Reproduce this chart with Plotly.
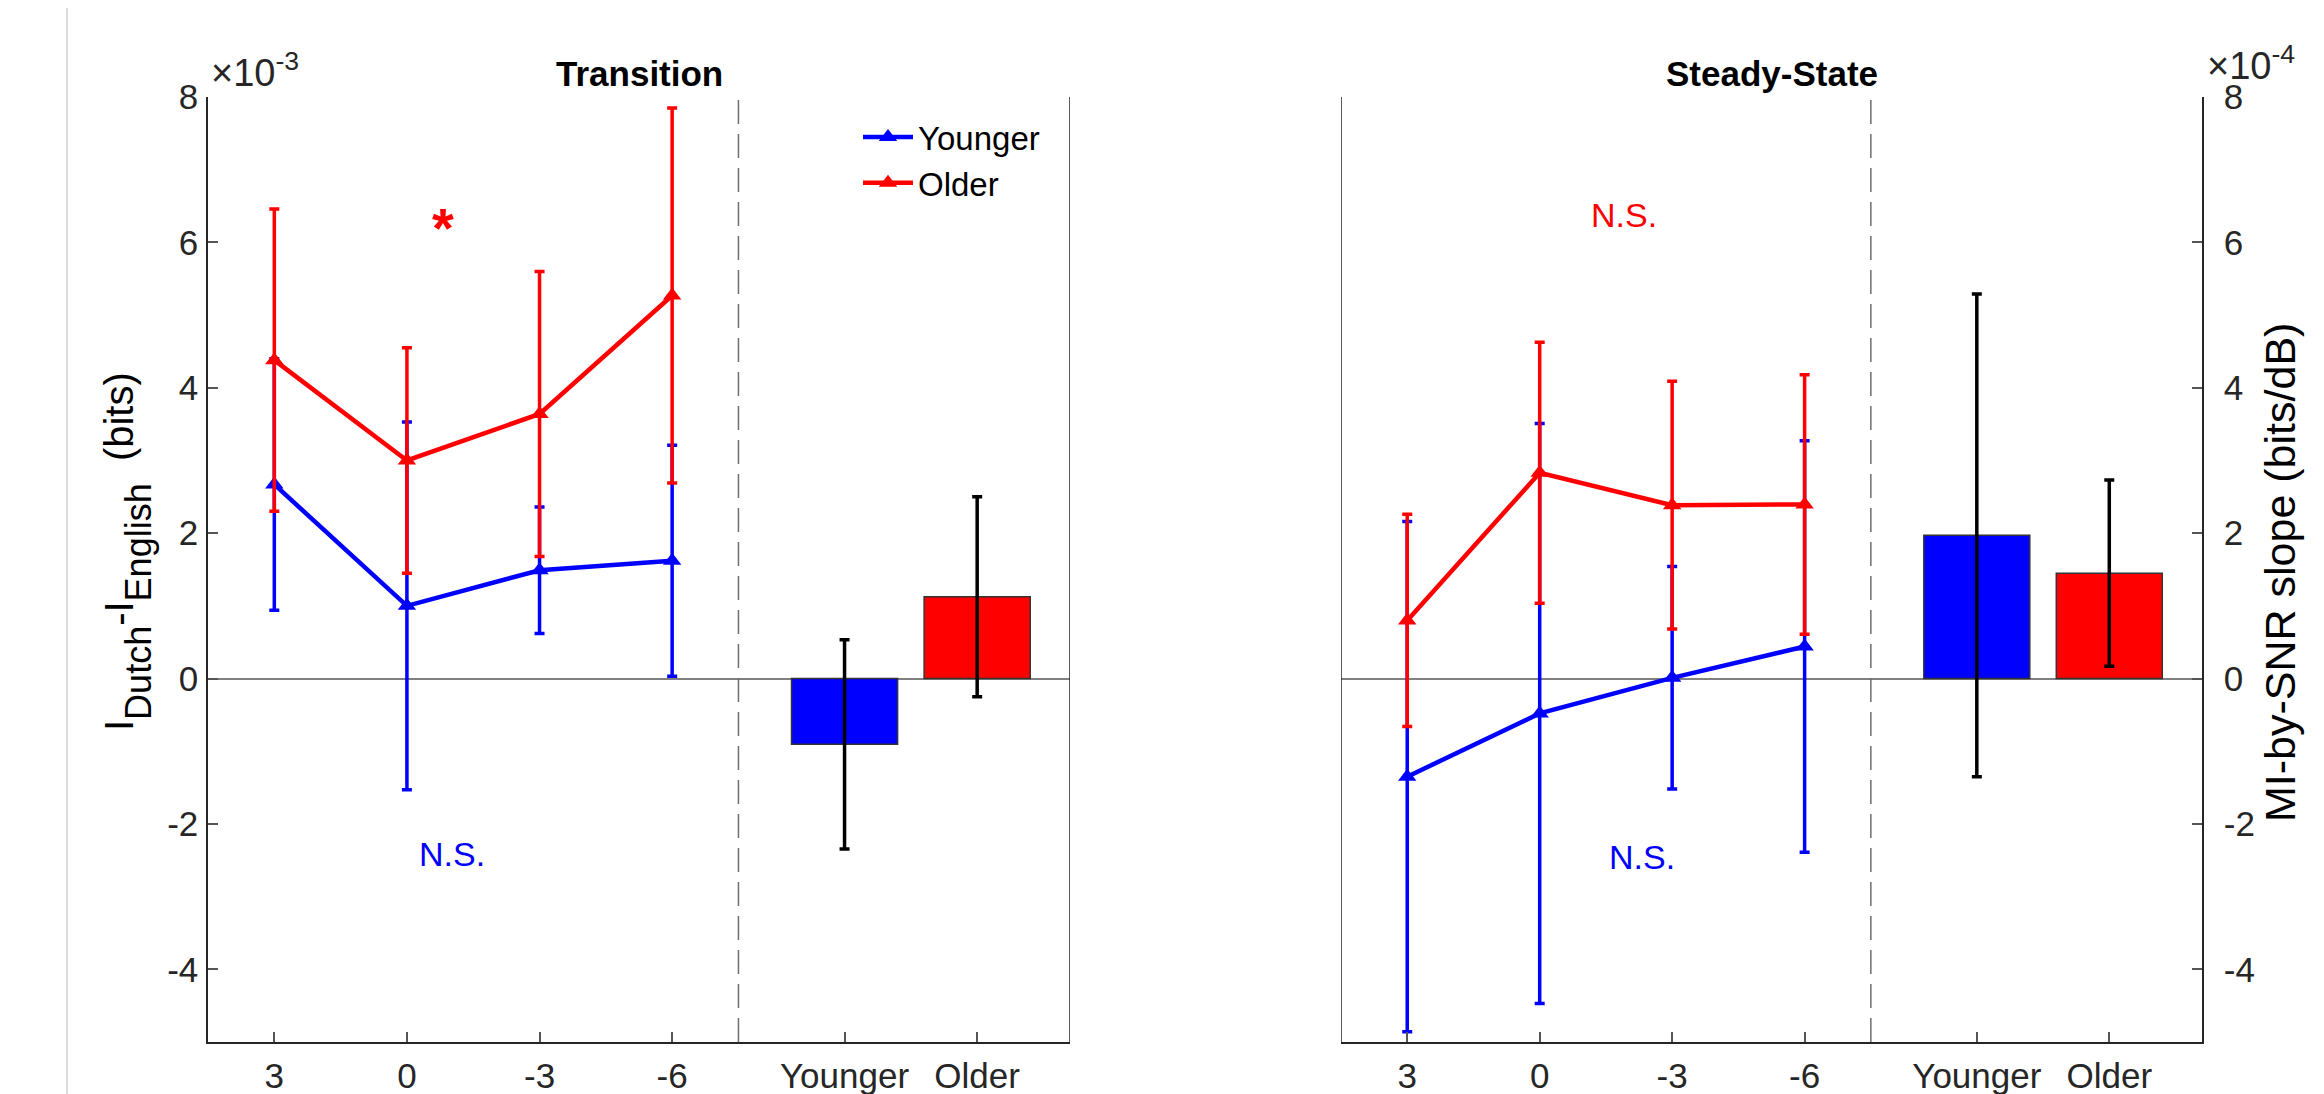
import plotly.graph_objects as go

W, H = 2324, 1094
OFF = 8  # the page body margin shifts the figure by 8 px

# ---- data (values in units of the tick labels: x1e-3 bits left, x1e-4 bits/dB right)
snr_labels = ["3", "0", "-3", "-6"]
snr_pos = [1, 2, 3, 4]
group_labels = ["Younger", "Older"]
group_pos = [5.3, 6.3]
y_ticks = [-4, -2, 0, 2, 4, 6, 8]
y_tick_text = ["-4", "-2", "0", "2", "4", "6", "8"]

trans_young = [2.67, 1.00, 1.49, 1.62]
trans_young_err = [1.73, 2.53, 0.87, 1.59]
trans_old = [4.38, 3.00, 3.64, 5.27]
trans_old_err = [2.08, 1.55, 1.96, 2.58]
trans_bar = [-0.905, 1.125]
trans_bar_err = [1.44, 1.375]

steady_young = [-1.35, -0.48, 0.01, 0.44]
steady_young_err = [3.51, 3.99, 1.53, 2.83]
steady_old = [0.80, 2.83, 2.385, 2.395]
steady_old_err = [1.46, 1.795, 1.705, 1.785]
steady_bar = [1.97, 1.45]
steady_bar_err = [3.32, 1.28]

BLUE = "#0000ff"
RED = "#ff0000"
AX = "#262626"
FONT = "Liberation Sans, Arial, Helvetica, sans-serif"


def px(X):
    return (X - OFF) / W


def py(Y):
    return 1 - (Y - OFF) / H


fig = go.Figure()


def add_panel(xa, ya, young, young_err, old, old_err, bar, bar_err, legend):
    fig.add_trace(go.Bar(
        x=group_pos, y=bar, width=0.8, xaxis=xa, yaxis=ya,
        marker=dict(color=[BLUE, RED], line=dict(color="#333333", width=1.5)),
        error_y=dict(type="data", array=bar_err, visible=True, color="black",
                     thickness=3.5, width=5),
        showlegend=False,
    ))
    for name, vals, errs, col in [("Younger", young, young_err, BLUE),
                                  ("Older", old, old_err, RED)]:
        fig.add_trace(go.Scatter(
            x=snr_pos, y=vals, mode="lines+markers", name=name,
            xaxis=xa, yaxis=ya,
            line=dict(color=col, width=4.5),
            marker=dict(symbol="triangle-up", size=16, color=col),
            error_y=dict(type="data", array=errs, visible=True, color=col,
                         thickness=3.5, width=5),
            showlegend=legend,
        ))


add_panel("x", "y", trans_young, trans_young_err, trans_old, trans_old_err,
          trans_bar, trans_bar_err, True)
add_panel("x2", "y2", steady_young, steady_young_err, steady_old, steady_old_err,
          steady_bar, steady_bar_err, False)

ydom = [py(1042), py(97)]
xdom1 = [px(208), px(1070)]
xdom2 = [px(1341), px(2202)]

xcommon = dict(range=[0.5, 7], tickvals=snr_pos + group_pos,
               ticktext=snr_labels + group_labels, ticks="inside", ticklen=10,
               tickcolor="#555555", tickwidth=1.5, showline=True, linecolor=AX,
               linewidth=1.5, showgrid=False, zeroline=False, automargin=False,
               tickfont=dict(size=35, color=AX, family=FONT), ticklabelstandoff=2)
ycommon = dict(range=[-5, 8], tickvals=y_ticks, ticktext=y_tick_text, ticks="inside",
               ticklen=10, tickcolor="#555555", tickwidth=1.5, showline=True,
               linecolor=AX, linewidth=1.5, showgrid=False, zeroline=True,
               zerolinecolor="#808080", zerolinewidth=2, automargin=False,
               tickfont=dict(size=35, color=AX, family=FONT), domain=ydom)

shapes = []
for xr, yr in [("x", "y"), ("x2", "y2")]:
    shapes.append(dict(type="line", xref=xr, yref=yr, x0=4.5, x1=4.5, y0=-5, y1=8,
                       line=dict(color="#6e6e6e", width=1.5, dash="24px,10px")))
shapes.append(dict(type="line", xref="x", yref="y", x0=7, x1=7, y0=-5, y1=8,
                   line=dict(color=AX, width=1.5)))
shapes.append(dict(type="line", xref="x2", yref="y2", x0=0.5, x1=0.5, y0=-5, y1=8,
                   line=dict(color=AX, width=1.5)))
shapes.append(dict(type="line", xref="paper", yref="paper", x0=px(67), x1=px(67),
                   y0=0, y1=1.02, line=dict(color="#dcdcdc", width=2)))

SUB = "<sub><span style='font-size:36px;baseline-shift:-10px'>{}</span></sub>"
ylabel_left = ("I" + SUB.format("Dutch") + "-I" + SUB.format("English")
               + "\u00a0 (bits)")

annotations = [
    dict(text="<b>Transition</b>", xref="paper", yref="paper",
         x=(xdom1[0] + xdom1[1]) / 2, y=py(73), showarrow=False,
         font=dict(size=35, color="black", family=FONT), xanchor="center", yanchor="middle"),
    dict(text="<b>Steady-State</b>", xref="paper", yref="paper",
         x=(xdom2[0] + xdom2[1]) / 2, y=py(73), showarrow=False,
         font=dict(size=35, color="black", family=FONT), xanchor="center", yanchor="middle"),
    dict(text="×10<sup>-3</sup>", xref="paper", yref="paper", x=px(209), y=py(70),
         showarrow=False, font=dict(size=38, color=AX, family=FONT),
         xanchor="left", yanchor="middle"),
    dict(text="×10<sup>-4</sup>", xref="paper", yref="paper", x=px(2205), y=py(63),
         showarrow=False, font=dict(size=38, color=AX, family=FONT),
         xanchor="left", yanchor="middle"),
    dict(text=ylabel_left, xref="paper", yref="paper",
         x=px(128), y=py(552), textangle=-90, showarrow=False,
         font=dict(size=40, color="black", family=FONT), xanchor="center", yanchor="middle"),
    dict(text="MI-by-SNR slope (bits/dB)", xref="paper", yref="paper",
         x=px(2280), y=py(573), textangle=-90, showarrow=False,
         font=dict(size=43, color="black", family=FONT), xanchor="center", yanchor="middle"),
    dict(text="<b>*</b>", xref="x", yref="y", x=2.27, y=6.2, showarrow=False,
         font=dict(size=56, color=RED, family=FONT), xanchor="center", yanchor="middle"),
    dict(text="N.S.", xref="x", yref="y", x=2.34, y=-2.42, showarrow=False,
         font=dict(size=34, color=BLUE, family=FONT), xanchor="center", yanchor="middle"),
    dict(text="N.S.", xref="x2", yref="y2", x=2.64, y=6.38, showarrow=False,
         font=dict(size=34, color=RED, family=FONT), xanchor="center", yanchor="middle"),
    dict(text="N.S.", xref="x2", yref="y2", x=2.77, y=-2.45, showarrow=False,
         font=dict(size=34, color=BLUE, family=FONT), xanchor="center", yanchor="middle"),
]

fig.update_layout(
    width=W, height=H,
    margin=dict(l=0, r=0, t=0, b=0, pad=0),
    paper_bgcolor="white", plot_bgcolor="white",
    font=dict(family=FONT, color="black"),
    xaxis=dict(domain=xdom1, anchor="y", **xcommon),
    yaxis=dict(anchor="x", side="left", ticklabelstandoff=1, **ycommon),
    xaxis2=dict(domain=xdom2, anchor="y2", **xcommon),
    yaxis2=dict(anchor="x2", side="right", ticklabelstandoff=13, **ycommon),
    barmode="overlay",
    legend=dict(x=px(858), y=py(109), xanchor="left", yanchor="top",
                bgcolor="rgba(0,0,0,0)", font=dict(size=33, color="black", family=FONT),
                itemwidth=50, tracegroupgap=0),
    shapes=shapes,
    annotations=annotations,
)

fig.write_html("out.html")
